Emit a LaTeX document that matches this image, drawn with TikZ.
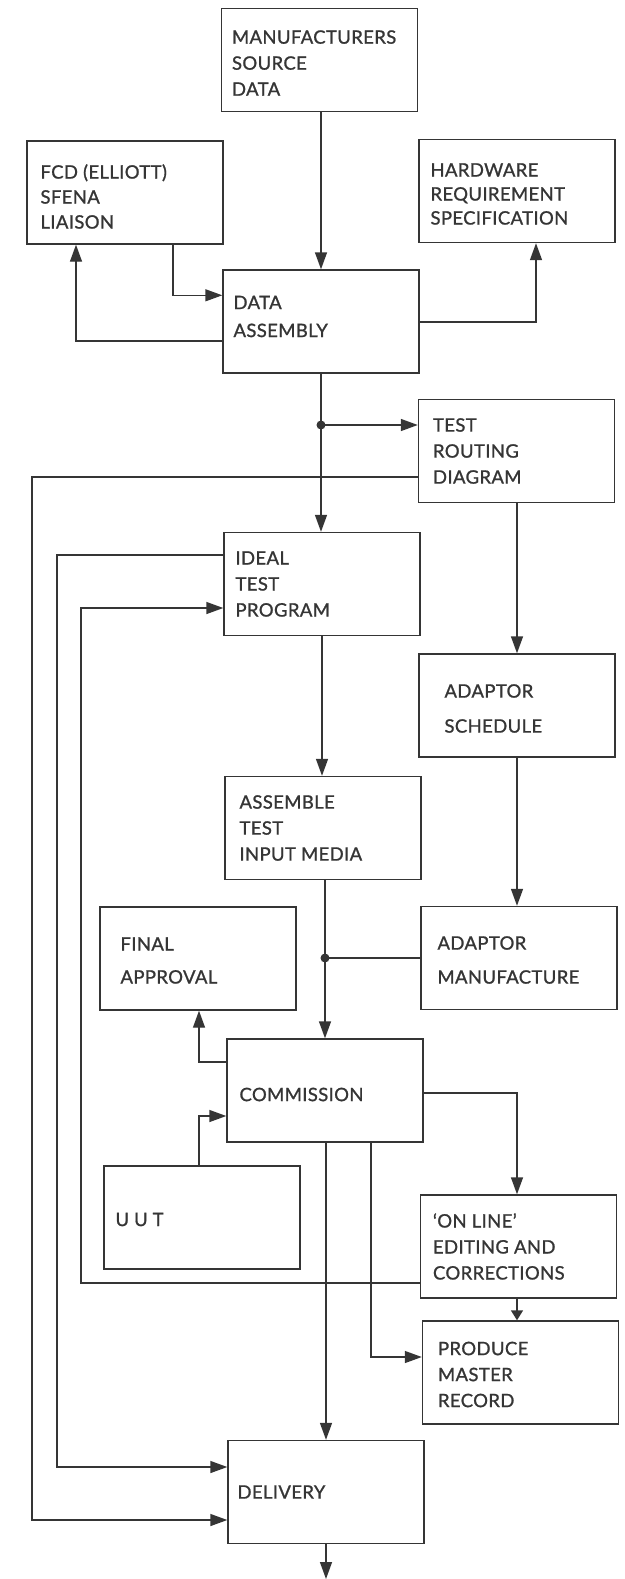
\documentclass[tikz,border=0pt]{standalone}
\usepackage{fontspec}
\setmainfont{Lato}
\newfontfamily\boxfont{Lato}[FakeBold=1.1, LetterSpace=2]
\usetikzlibrary{arrows.meta,calc}
\definecolor{ink}{HTML}{353535}
\tikzset{
  x=1pt, y=-1pt,
  box/.style={draw=ink, line width=1.4pt, minimum width=196pt, minimum height=103pt, inner sep=0pt},
  txt/.style={anchor=west, align=left, text=ink, inner sep=0pt,
    font=\boxfont\fontsize{18.5}{26}\selectfont},
  wire/.style={draw=ink, line width=1.4pt},
  arr/.style={wire, -{Triangle[length=17pt,width=12pt]}},
  sarr/.style={wire, -{Triangle[length=10pt,width=12pt]}},
  dot/.style={circle, fill=ink, inner sep=0pt, minimum size=9pt}
}
\begin{document}
\begin{tikzpicture}
\useasboundingbox (0,0) rectangle (624,1579);

% boxes
\node[box] (msd)  at (319.5,60)   {};
\node[box] (fcd)  at (125,192.5)  {};
\node[box] (hw)   at (517,191)    {};
\node[box] (da)   at (321,321.5)  {};
\node[box] (trd)  at (516.5,451)  {};
\node[box] (itp)  at (322,584)    {};
\node[box] (as)   at (517,705.5)  {};
\node[box] (atim) at (323,828)    {};
\node[box] (fa)   at (198,958.5)  {};
\node[box] (am)   at (519,958)    {};
\node[box] (comm) at (325,1090.5) {};
\node[box] (uut)  at (202,1217.5) {};
\node[box] (ol)   at (518.5,1246.5) {};
\node[box] (pmr)  at (520.5,1372.5) {};
\node[box] (del)  at (326,1492)   {};

% box texts
\node[txt] (msd-t)  at ([xshift=11pt,yshift=-3pt]msd.west) {MANUFACTURERS\\SOURCE\\DATA};
\node[txt] (fcd-t)  at ([xshift=14pt,yshift=-4pt]fcd.west) {FCD (ELLIOTT)\\[-1pt]SFENA\\[-1pt]LIAISON};
\node[txt] (hw-t)   at ([xshift=12pt,yshift=-3pt]hw.west) {HARDWARE\\[-2pt]REQUIREMENT\\[-2pt]SPECIFICATION};
\node[txt] (da-t)   at ([xshift=11pt,yshift=5pt]da.west) {DATA\\[2pt]ASSEMBLY};
\node[txt] (trd-t)  at ([xshift=15pt]trd.west) {TEST\\ROUTING\\DIAGRAM};
\node[txt] (itp-t)  at ([xshift=12pt]itp.west) {IDEAL\\TEST\\PROGRAM};
\node[txt] (as-t)   at ([xshift=26pt,yshift=-3pt]as.west) {ADAPTOR\\[9pt]SCHEDULE};
\node[txt] (atim-t) at ([xshift=15pt]atim.west) {ASSEMBLE\\TEST\\INPUT MEDIA};
\node[txt] (fa-t)   at ([xshift=21pt,yshift=-2pt]fa.west) {FINAL\\[7pt]APPROVAL};
\node[txt] (am-t)   at ([xshift=17pt,yshift=-2pt]am.west) {ADAPTOR\\[8pt]MANUFACTURE};
\node[txt] (comm-t) at ([xshift=13pt,yshift=-4pt]comm.west) {COMMISSION};
\node[txt] (uut-t)  at ([xshift=12pt,yshift=-2pt]uut.west) {U\hspace{5pt}U\hspace{5pt}T};
\node[txt] (ol-t)   at ([xshift=13pt]ol.west) {‘ON LINE’\\EDITING AND\\CORRECTIONS};
\node[txt] (pmr-t)  at ([xshift=16pt,yshift=-2pt]pmr.west) {PRODUCE\\MASTER\\RECORD};
\node[txt] (del-t)  at ([xshift=10pt]del.west) {DELIVERY};

% routing lanes on the left and junctions
\coordinate (lane1) at (32,1000);
\coordinate (lane2) at (57,1000);
\coordinate (lane3) at (81,1000);
\coordinate (j1) at (da.south |- 0,425);
\coordinate (j2) at (comm.north |- am.west);
\coordinate (out) at (del.south |- 0,1579);

% top section
\draw[arr] (da.north |- msd.south) -- (da.north);
\draw[arr] ([xshift=48pt]fcd.south) |- ([yshift=-26pt]da.north west);
\draw[arr] ([yshift=-19.5pt]da.west) -| ([xshift=-49pt]fcd.south);
\draw[arr] ([yshift=-0.5pt]da.east) -| ([xshift=19pt]hw.south);

% data assembly branches
\draw[wire] (da.south) -- (j1);
\draw[arr] (j1) -- (itp.north -| j1);
\draw[arr] (j1) -- (j1 -| trd.west);
\node[dot] (d1) at (j1) {};

% right column
\draw[arr] (as.north |- trd.south) -- (as.north);
\draw[arr] (as.south) -- (am.north -| as.south);

% centre column
\draw[arr] (itp.south) -- (itp.south |- atim.north);
\draw[wire] (comm.north |- atim.south) -- (j2);
\draw[arr] (j2) -- (comm.north);
\draw[wire] (am.west) -- (j2);
\node[dot] (d2) at (j2) {};

% feedback lanes
\draw[arr] ([yshift=-26pt]trd.west) -| (lane1) |- ([yshift=-28pt]del.west);
\draw[arr] ([yshift=29pt]itp.west) -| (lane2) |- ([yshift=25pt]del.west);
\draw[arr] ([yshift=-36.5pt]ol.west) -| (lane3) |- ([yshift=-24pt]itp.west);

% commissioning
\draw[arr] ([yshift=28.5pt]comm.west) -| ([xshift=1pt]fa.south);
\draw[arr] ([xshift=-3pt]uut.north) |- ([yshift=-25.5pt]comm.west);
\draw[arr] ([yshift=-2.5pt]comm.east) -| ([xshift=-1.5pt]ol.north);
\draw[arr] (del.north |- comm.south) -- (del.north);
\draw[arr] ([xshift=46pt]comm.south) |- ([yshift=15.5pt]pmr.west);
\draw[sarr] ([xshift=-1.5pt]ol.south) -- ([xshift=-3.5pt]pmr.north);
\draw[arr] (del.south) -- (out);
\end{tikzpicture}
\end{document}
